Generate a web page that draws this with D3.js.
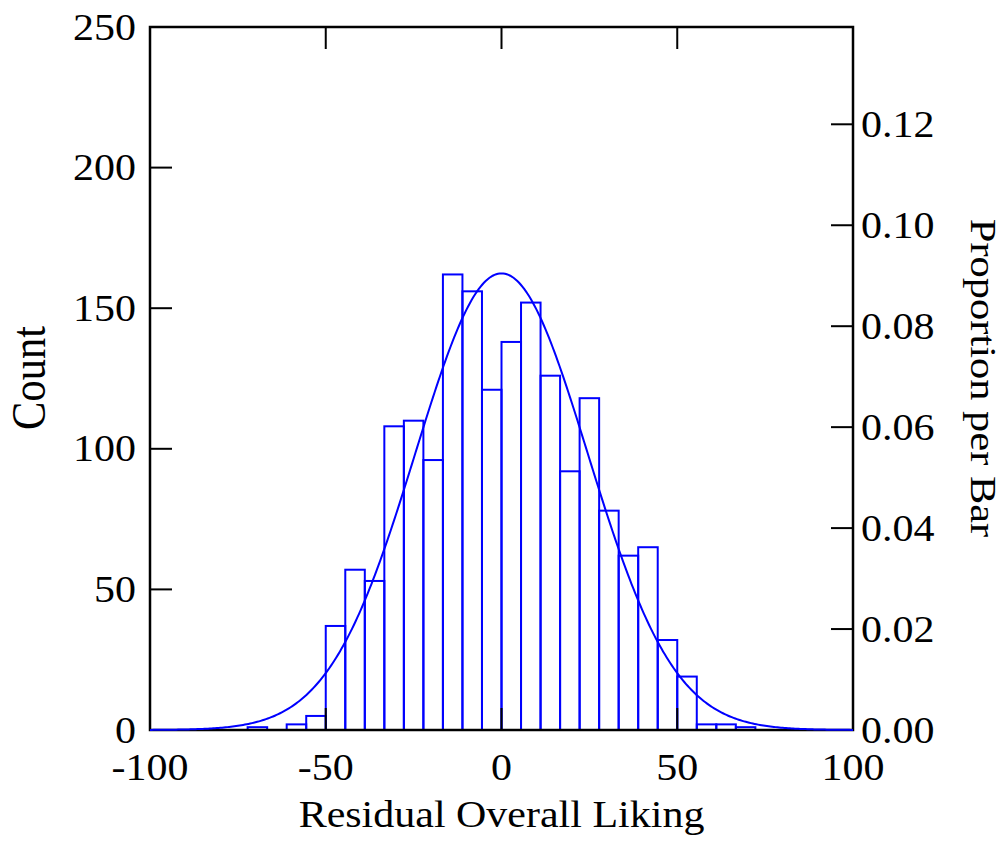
<!DOCTYPE html>
<html>
<head>
<meta charset="utf-8">
<script src="https://cdn.jsdelivr.net/npm/d3@7"></script>
<style>
  html, body { margin: 0; padding: 0; background: #fff; }
  svg { display: block; }
  text { font-family: "Liberation Serif", "Times New Roman", serif; fill: #000; }
</style>
</head>
<body>
<svg id="chart" width="1005" height="841"></svg>
<script>
// ---- data ----
const xTicks = [-100, -50, 0, 50, 100];
const xInnerTicks = [-50, 0, 50];
const countTicks = [0, 50, 100, 150, 200, 250];
const propTicks = [0.00, 0.02, 0.04, 0.06, 0.08, 0.10, 0.12];
const propLabels = ["0.00", "0.02", "0.04", "0.06", "0.08", "0.10", "0.12"];
const binWidth = 100 / 18;
const firstBinEdge = -50 - 4 * binWidth;
const counts = [1, 0, 2, 5, 37, 57, 53, 108, 110, 96, 162, 156, 121, 138, 152, 126, 92, 118, 78, 62, 65, 32, 19, 2, 2, 1];
const fitMean = 0;
const fitSD = 24.5;
const xTitle = "Residual Overall Liking";
const yTitle = "Count";
const y2Title = "Proportion per Bar";

// ---- layout ----
const svg = d3.select("#chart");
const L = 150, R = 853, T = 27, B = 730;
const N = d3.sum(counts);
const x = d3.scaleLinear().domain([-100, 100]).range([L, R]);
const y = d3.scaleLinear().domain([0, 250]).range([B, T]);
const yP = d3.scaleLinear().domain([0, 250 / N]).range([B, T]);
const SX = 1.12;
const tickLen = 22;
const blue = "#0000ff";

const bins = counts.map((c, i) => ({
  x0: firstBinEdge + i * binWidth,
  x1: firstBinEdge + (i + 1) * binWidth,
  c
})).filter(d => d.c > 0);

// bars
svg.append("g").selectAll("rect").data(bins).join("rect")
  .attr("x", d => x(d.x0))
  .attr("y", d => y(d.c))
  .attr("width", d => x(d.x1) - x(d.x0))
  .attr("height", d => y(0) - y(d.c))
  .attr("fill", "none")
  .attr("stroke", blue)
  .attr("stroke-width", 2);

// ticks
const tg = svg.append("g").attr("stroke", "#000").attr("stroke-width", 2);
tg.selectAll(".lt").data(countTicks).join("line")
  .attr("x1", L).attr("x2", L + tickLen)
  .attr("y1", d => y(d)).attr("y2", d => y(d));
tg.selectAll(".rt").data(propTicks).join("line")
  .attr("x1", R - tickLen).attr("x2", R)
  .attr("y1", d => yP(d)).attr("y2", d => yP(d));
tg.selectAll(".tt").data(xInnerTicks).join("line")
  .attr("x1", d => x(d)).attr("x2", d => x(d))
  .attr("y1", T).attr("y2", T + tickLen);
tg.selectAll(".bt").data(xInnerTicks).join("line")
  .attr("x1", d => x(d)).attr("x2", d => x(d))
  .attr("y1", B - tickLen).attr("y2", B);

// frame
svg.append("rect")
  .attr("x", L).attr("y", T)
  .attr("width", R - L).attr("height", B - T)
  .attr("fill", "none").attr("stroke", "#000").attr("stroke-width", 2.5);

// normal curve
const curvePts = d3.range(-100, 100.001, 0.5).map(v => [v,
  N * binWidth * Math.exp(-0.5 * Math.pow((v - fitMean) / fitSD, 2)) / (fitSD * Math.sqrt(2 * Math.PI))]);
svg.append("path")
  .attr("d", d3.line().x(d => x(d[0])).y(d => y(d[1]))(curvePts))
  .attr("fill", "none").attr("stroke", blue).attr("stroke-width", 2);

// text helper
function label(px, py, str, anchor, size, rot, inner) {
  let tr = `translate(${px},${py})`;
  if (inner) tr += (rot ? ` rotate(${rot})` : "") + ` scale(${inner},1)`;
  else tr += ` scale(${SX},1)` + (rot ? ` rotate(${rot})` : "");
  svg.append("text")
    .attr("transform", tr)
    .attr("text-anchor", anchor)
    .attr("font-size", size)
    .text(str);
}
const fs = 37.5;
countTicks.forEach(v => label(L - 14, y(v) + 12.5, String(v), "end", fs, 0));
propTicks.forEach((v, i) => label(R + 8, yP(v) + 12.5, propLabels[i], "start", fs, 0));
xTicks.forEach(v => label(x(v), 780, String(v), "middle", fs, 0));
label(x(0), 827, xTitle, "middle", fs, 0);
label(45, 378, yTitle, "middle", 42.5, -90);
label(971, 378, y2Title, "middle", 36, 90, 1.18);
</script>
</body>
</html>
